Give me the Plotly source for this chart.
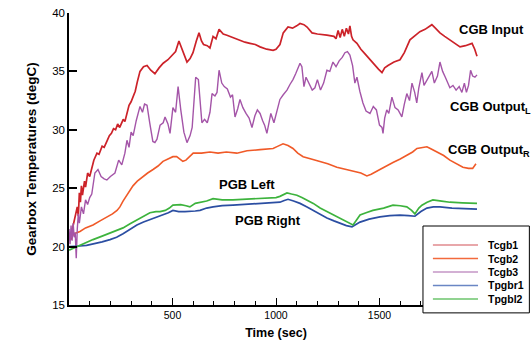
import plotly.graph_objects as go

# ---------------- data ----------------
t_cgb1 = [0, 10, 20, 30, 40, 45, 50, 55, 60, 65, 75, 80, 90, 100, 110, 120, 135, 145, 160, 170, 185,
          195, 205, 215, 225, 235, 245, 255, 262, 270, 280, 290, 300, 310, 320, 330,
          343, 360, 377, 395, 415, 435, 455, 478, 500, 515, 531, 545, 570, 585, 599, 615, 628, 640, 650,
          668, 681, 696, 710, 725, 745, 763, 790, 826, 850, 874, 900, 923, 955, 986, 1000, 1019, 1035,
          1058, 1080, 1100, 1116, 1135, 1150, 1174, 1200, 1246, 1280, 1290, 1300, 1310, 1320, 1330,
          1340, 1350, 1357, 1365, 1372, 1391, 1410, 1430, 1454, 1475, 1495, 1512, 1525, 1541, 1570,
          1599, 1620, 1647, 1670, 1695, 1720, 1753, 1770, 1792, 1815, 1840, 1865, 1889, 1915, 1947,
          1960, 1971]
v_cgb1 = [20.9, 20.6, 21.8, 22.6, 23.4, 22.6, 24.6, 23.8, 25.2, 24.4, 25.6, 25.1, 26.3, 26.0, 26.8,
          27.4, 28.0, 27.9, 28.6, 28.5, 29.1, 29.5, 29.7, 30.1, 30.0, 30.5, 30.2, 30.7, 30.9, 30.7,
          31.5, 32.1, 32.4, 32.9, 33.3, 34.1,
          35.0, 35.4, 35.5, 35.1, 34.8, 35.3, 35.7, 36.0, 36.4, 36.7,
          37.6, 36.9, 35.8, 36.1, 36.6, 37.6, 38.3, 37.6, 37.3, 37.2, 37.0, 38.0, 37.8, 38.6, 38.2,
          38.1, 37.9, 37.7, 37.5, 37.4, 37.3, 37.1, 36.9, 36.8, 36.9, 37.3, 38.3, 38.8, 38.7, 38.9,
          39.1, 39.0, 38.8, 38.3, 38.2, 38.1, 38.0, 37.8, 38.5, 37.9, 38.6, 38.0, 38.7, 38.2, 38.9,
          38.0, 37.7, 37.4, 36.9, 36.5, 36.0, 35.6, 35.2, 34.9, 35.3, 35.5, 35.8, 36.0, 36.6, 37.7,
          38.0, 38.4, 38.6, 39.0, 38.7, 38.3, 38.0, 37.7, 37.4, 37.1, 37.2, 37.4, 36.9, 36.3]

t_cgb2 = [0, 10, 25, 53, 80, 116, 150, 183, 210, 232, 246, 261, 280, 295, 309, 330, 358, 380, 406,
          430, 454, 475, 502, 520, 535, 550, 565, 584, 600, 640, 681, 720, 760, 811, 860, 923, 960,
          986, 1010, 1034, 1058, 1082, 1105, 1131, 1170, 1213, 1250, 1294, 1330, 1372, 1410, 1439,
          1460, 1502, 1530, 1565, 1600, 1632, 1660, 1681, 1710, 1729, 1750, 1777, 1810, 1840, 1870,
          1903, 1930, 1950, 1966]
v_cgb2 = [21.0, 20.8, 21.1, 21.3, 21.6, 21.85, 22.2, 22.5, 22.8, 23.1, 23.4, 23.9, 24.4, 24.8, 25.2,
          25.6, 26.0, 26.3, 26.6, 26.9, 27.3, 27.5, 27.7, 27.7, 27.5, 27.3, 27.4, 27.7, 28.0, 28.0,
          28.1, 28.0, 28.1, 28.0, 28.2, 28.3, 28.35, 28.4, 28.6, 28.8, 28.65, 28.4, 28.0, 27.7, 27.5,
          27.3, 27.1, 26.8, 26.65, 26.5, 26.3, 26.05, 26.2, 26.6, 26.9, 27.2, 27.5, 27.8, 28.1, 28.4,
          28.5, 28.55, 28.35, 28.1, 27.8, 27.4, 27.1, 26.8, 26.7, 26.7, 27.1]

t_cgb3 = [0, 5, 10, 15, 20, 25, 30, 35, 40, 45, 50, 60, 70, 80, 90, 100, 110, 125, 140, 155, 170,
          183, 200, 222, 240, 255, 270, 280, 290, 300, 310, 325, 343, 355, 365, 377, 390, 405, 415,
          425, 440, 455, 464, 478, 488, 502, 515, 527, 540, 555, 570, 585, 595, 605, 612, 625, 635,
          642, 655, 668, 681, 691, 705, 715, 725, 738, 750, 765, 780, 790, 802, 815, 826, 840, 855,
          870, 884, 898, 910, 923, 935, 945, 956, 966, 975, 990, 1005, 1019, 1035, 1053, 1068, 1082,
          1095, 1105, 1116, 1125, 1135, 1145, 1160, 1175, 1188, 1200, 1215, 1230, 1246, 1260, 1275,
          1290, 1305, 1320, 1333, 1345, 1357, 1370, 1381, 1391, 1405, 1420, 1435, 1454, 1470, 1485,
          1500, 1512, 1517, 1525, 1535, 1545, 1560, 1575, 1590, 1608, 1620, 1632, 1645, 1657, 1670,
          1680, 1690, 1705, 1715, 1728, 1740, 1753, 1765, 1780, 1792, 1805, 1818, 1830, 1840, 1855,
          1870, 1885, 1898, 1910, 1920, 1930, 1940, 1950, 1961, 1971]
v_cgb3 = [21.5, 20.2, 21.8, 20.5, 22.0, 20.8, 21.2, 19.0, 21.5, 22.8, 22.0, 23.4, 22.8, 24.0, 23.6,
          24.2, 24.5, 26.3, 26.6, 26.0, 25.8, 25.7, 26.0, 26.3, 27.4, 27.0, 28.0, 29.1, 28.5, 29.8,
          29.5, 30.8, 32.0, 31.5, 32.2, 32.1, 30.6, 29.0, 28.9, 29.2, 30.4, 30.6, 31.1, 30.5, 29.7,
          31.9, 31.5, 33.7, 31.7, 29.8, 28.9, 29.5, 30.2, 33.0, 34.5, 34.3, 32.0, 30.6, 30.9, 30.6,
          31.5, 33.1, 32.9, 33.2, 35.1, 34.0, 33.7, 33.5, 32.8, 33.0, 31.1, 31.8, 32.6, 31.9, 31.4,
          31.0, 30.2, 31.2, 31.7, 31.4, 30.8, 30.4, 29.7, 30.5, 31.4, 30.6, 31.6, 32.6, 33.0, 33.4,
          33.9, 34.3, 34.8, 35.2, 35.7, 35.4, 33.7, 34.5, 34.0, 33.4, 33.6, 34.3, 33.4, 34.0, 35.1,
          35.0, 35.8, 35.4, 35.9, 36.2, 36.6, 36.7, 36.4, 35.5, 34.0, 34.5, 33.3, 32.3, 31.6, 31.4,
          32.0, 31.7, 30.4, 30.2, 29.7, 31.0, 31.7, 31.4, 32.8, 31.9, 31.7, 31.1, 32.2, 33.1, 32.5,
          34.0, 33.2, 32.3, 33.6, 34.9, 33.8, 34.2, 34.6, 35.0, 34.0, 34.6, 35.8, 35.0, 34.5, 34.0,
          33.6, 33.8, 33.4, 33.7, 33.2, 34.0, 33.2, 33.8, 35.1, 34.6, 34.5, 34.7]

t_pgbr1 = [0, 25, 53, 85, 116, 160, 198, 230, 261, 295, 328, 360, 391, 420, 454, 480, 502, 530, 560,
           584, 610, 633, 665, 696, 740, 792, 850, 900, 956, 1019, 1040, 1058, 1085, 1116, 1150, 1179,
           1210, 1246, 1280, 1309, 1340, 1367, 1385, 1406, 1450, 1502, 1550, 1599, 1640, 1671, 1700,
           1729, 1760, 1792, 1850, 1900, 1971]
v_pgbr1 = [20.0, 20.0, 20.05, 20.1, 20.2, 20.4, 20.6, 20.8, 21.1, 21.45, 21.85, 22.1, 22.3, 22.5,
           22.7, 22.9, 23.1, 23.0, 23.0, 23.0, 23.05, 23.1, 23.3, 23.4, 23.5, 23.55, 23.6, 23.65,
           23.7, 23.8, 23.95, 24.05, 23.9, 23.7, 23.4, 23.1, 22.8, 22.45, 22.2, 22.0, 21.8, 21.7,
           21.9, 22.1, 22.35, 22.55, 22.65, 22.7, 22.65, 22.6, 23.0, 23.3, 23.4, 23.4, 23.3, 23.25,
           23.2]

t_pgbl2 = [0, 25, 53, 85, 116, 160, 198, 230, 261, 295, 328, 360, 391, 420, 440, 465, 485, 502, 540,
           565, 584, 610, 633, 665, 696, 740, 792, 850, 900, 956, 1000, 1019, 1040, 1053, 1075, 1101,
           1125, 1150, 1180, 1213, 1245, 1275, 1310, 1343, 1365, 1372, 1390, 1406, 1435, 1468, 1520,
           1565, 1600, 1632, 1655, 1671, 1690, 1705, 1730, 1758, 1800, 1840, 1900, 1971]
v_pgbl2 = [19.7, 19.9, 20.1, 20.35, 20.6, 20.9, 21.15, 21.4, 21.6, 21.95, 22.3, 22.6, 22.9, 23.0,
           23.0, 23.1, 23.3, 23.55, 23.6, 23.5, 23.4, 23.7, 23.8, 23.9, 24.1, 24.0, 24.0, 24.05, 24.1,
           24.15, 24.2, 24.3, 24.5, 24.6, 24.5, 24.4, 24.2, 24.0, 23.7, 23.3, 23.0, 22.7, 22.4, 22.1,
           21.9, 21.85, 22.3, 22.7, 22.9, 23.1, 23.3, 23.55, 23.5, 23.4, 23.1, 22.8, 23.3, 23.55,
           23.8, 24.0, 23.9, 23.8, 23.75, 23.7]

series_names = ["Tcgb1", "Tcgb2", "Tcgb3", "Tpgbr1", "Tpgbl2"]
series_colors = ["#cc2229", "#f05a28", "#a455a8", "#2b4ea2", "#3db33d"]
legend_colors = ["#e08a8e", "#f26a3c", "#c496c6", "#6a86c4", "#6cc46c"]
x_tickvals = [500, 1000, 1500]
y_tickvals = [15, 20, 25, 30, 35, 40]

FONT = "Arial, Liberation Sans, sans-serif"

fig = go.Figure()
data = [(t_cgb1, v_cgb1), (t_cgb2, v_cgb2), (t_cgb3, v_cgb3), (t_pgbr1, v_pgbr1), (t_pgbl2, v_pgbl2)]
widths = [1.7, 1.6, 1.4, 1.7, 1.7]
for (tx, vy), name, col, w in zip(data, series_names, series_colors, widths):
    fig.add_trace(go.Scatter(x=tx, y=vy, mode="lines", name=name, showlegend=False,
                             line=dict(color=col, width=w)))

# curve labels
ann_font = dict(family=FONT, size=13, color="black")
annots = [
    dict(x=1.020, y=0.942, text="<b>CGB Input</b>", xanchor="center"),
    dict(x=0.916, y=0.675, text="<b>CGB Output<sub>L</sub></b>", xanchor="left"),
    dict(x=0.911, y=0.530, text="<b>CGB Output<sub>R</sub></b>", xanchor="left"),
    dict(x=0.357, y=0.411, text="<b>PGB Left</b>", xanchor="left"),
    dict(x=0.396, y=0.288, text="<b>PGB Right</b>", xanchor="left"),
]
for a in annots:
    fig.add_annotation(xref="paper", yref="paper", showarrow=False, yanchor="middle",
                       font=ann_font, **a)

# legend box (drawn in paper coordinates so its rows are as tight as the reference)
fig.add_shape(type="rect", xref="paper", yref="paper", x0=0.855, x1=1.112, y0=-0.027, y1=0.2705,
              line=dict(color="black", width=1), fillcolor="white", layer="above")
row_y = [0.2055, 0.159, 0.113, 0.0668, 0.0205]
for name, col, ry in zip(series_names, legend_colors, row_y):
    fig.add_shape(type="line", xref="paper", yref="paper", x0=0.879, x1=0.988, y0=ry, y1=ry,
                  line=dict(color=col, width=1.5), layer="above")
    fig.add_annotation(xref="paper", yref="paper", x=1.008, y=ry, text="<b>" + name + "</b>",
                       showarrow=False, xanchor="left", yanchor="middle",
                       font=dict(family=FONT, size=10.5, color="black"))

fig.update_layout(
    width=531, height=346,
    margin=dict(l=69, r=48, t=13, b=41),
    paper_bgcolor="white", plot_bgcolor="white",
    font=dict(family=FONT, color="black"),
    showlegend=False,
    xaxis=dict(range=[0, 2000], showgrid=False, zeroline=False, automargin=False,
               showline=True, linecolor="black", linewidth=1.5,
               tickmode="array", tickvals=x_tickvals,
               ticks="inside", ticklen=7, tickcolor="black", tickwidth=1,
               tickfont=dict(family=FONT, size=10.5),
               minor=dict(tickmode="linear", tick0=0, dtick=100, ticks="inside",
                          ticklen=4, tickcolor="black", tickwidth=1, showgrid=False),
               title=dict(text="<b>Time (sec)</b>", font=dict(family=FONT, size=12.5), standoff=8)),
    yaxis=dict(range=[15, 40], showgrid=False, zeroline=False, automargin=False,
               showline=True, linecolor="black", linewidth=1.5,
               tickmode="array", tickvals=y_tickvals,
               ticks="inside", ticklen=8, tickcolor="black", tickwidth=1.5,
               tickfont=dict(family=FONT, size=11.5),
               title=dict(text="<b>Gearbox Temperatures (degC)</b>",
                          font=dict(family=FONT, size=13.5), standoff=12)),
)

fig.write_html("out.html", config={"displayModeBar": False},
               post_script="document.body.style.margin='0';document.body.style.padding='0';")
